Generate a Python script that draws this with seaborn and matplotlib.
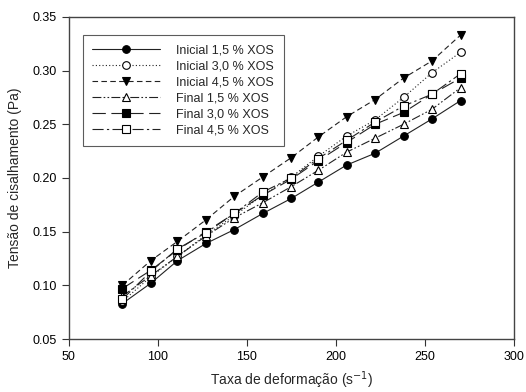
import matplotlib
matplotlib.use("Agg")
import matplotlib.pyplot as plt
import seaborn as sns
import pandas as pd

# shear rate (s-1)
taxa = [80, 96, 111, 127, 143, 159, 175, 190, 206, 222, 238, 254, 270]

ini_15 = [0.083, 0.102, 0.123, 0.139, 0.152, 0.167, 0.181, 0.196, 0.212, 0.223, 0.239, 0.255, 0.272]
ini_30 = [0.085, 0.108, 0.127, 0.147, 0.165, 0.184, 0.201, 0.220, 0.239, 0.254, 0.275, 0.298, 0.317]
ini_45 = [0.100, 0.123, 0.141, 0.161, 0.183, 0.201, 0.219, 0.238, 0.257, 0.273, 0.293, 0.309, 0.333]
fin_15 = [0.090, 0.109, 0.127, 0.146, 0.163, 0.177, 0.192, 0.207, 0.224, 0.237, 0.250, 0.264, 0.284]
fin_30 = [0.097, 0.114, 0.133, 0.150, 0.167, 0.184, 0.199, 0.216, 0.233, 0.250, 0.261, 0.278, 0.293]
fin_45 = [0.087, 0.113, 0.134, 0.149, 0.167, 0.187, 0.200, 0.218, 0.235, 0.252, 0.267, 0.278, 0.297]

labels = ["Inicial 1,5 % XOS", "Inicial 3,0 % XOS", "Inicial 4,5 % XOS",
          "Final 1,5 % XOS", "Final 3,0 % XOS", "Final 4,5 % XOS"]
series = [ini_15, ini_30, ini_45, fin_15, fin_30, fin_45]

# style per series: marker, face colour, line style
estilos = [
    ("o", "black", "-"),
    ("o", "white", (0, (1, 2))),
    ("v", "black", (0, (5, 3))),
    ("^", "white", (0, (8, 2, 1.5, 2, 1.5, 2))),
    ("s", "black", (0, (12, 5))),
    ("s", "white", (0, (10, 3, 2, 3))),
]

sns.set_style("white")
plt.rcParams["font.family"] = ["Liberation Sans", "DejaVu Sans"]

fig = plt.figure(figsize=(5.26, 3.92), dpi=100)
ax = fig.add_axes([0.131, 0.135, 0.846, 0.822])

for lab, vals, (mk, fc, ls) in zip(labels, series, estilos):
    df = pd.DataFrame({"x": taxa, "y": vals})
    sns.lineplot(data=df, x="x", y="y", ax=ax, label=lab, color="#222222",
                 linestyle=ls, linewidth=0.8, marker=mk, markersize=5.5,
                 markerfacecolor=fc, markeredgecolor="black", markeredgewidth=0.8)

ax.set_xlim(50, 300)
ax.set_ylim(0.05, 0.35)
ax.set_xticks([50, 100, 150, 200, 250, 300])
ax.set_yticks([0.05, 0.10, 0.15, 0.20, 0.25, 0.30, 0.35])
ax.yaxis.set_major_formatter(matplotlib.ticker.FormatStrFormatter("%.2f"))

ax.tick_params(axis="both", direction="out", length=5, width=0.8, colors="#333333",
               labelsize=9, labelcolor="black", bottom=True, left=True, top=False, right=False)
for s in ax.spines.values():
    s.set_color("#444444")
    s.set_linewidth(1.0)

ax.set_xlabel("Taxa de deformação (s$^{-1}$)", fontsize=10, labelpad=5)
ax.set_ylabel("Tensão de cisalhamento (Pa)", fontsize=10, labelpad=8)

leg = ax.legend(loc="upper left", bbox_to_anchor=(0.031, 0.944), borderaxespad=0,
                fontsize=9, handlelength=5.4, handletextpad=1.35, labelspacing=0.32,
                borderpad=0.75, frameon=True, fancybox=False)
leg.get_frame().set_edgecolor("#333333")
leg.get_frame().set_linewidth(0.8)

fig.savefig("out.png", dpi=100)
